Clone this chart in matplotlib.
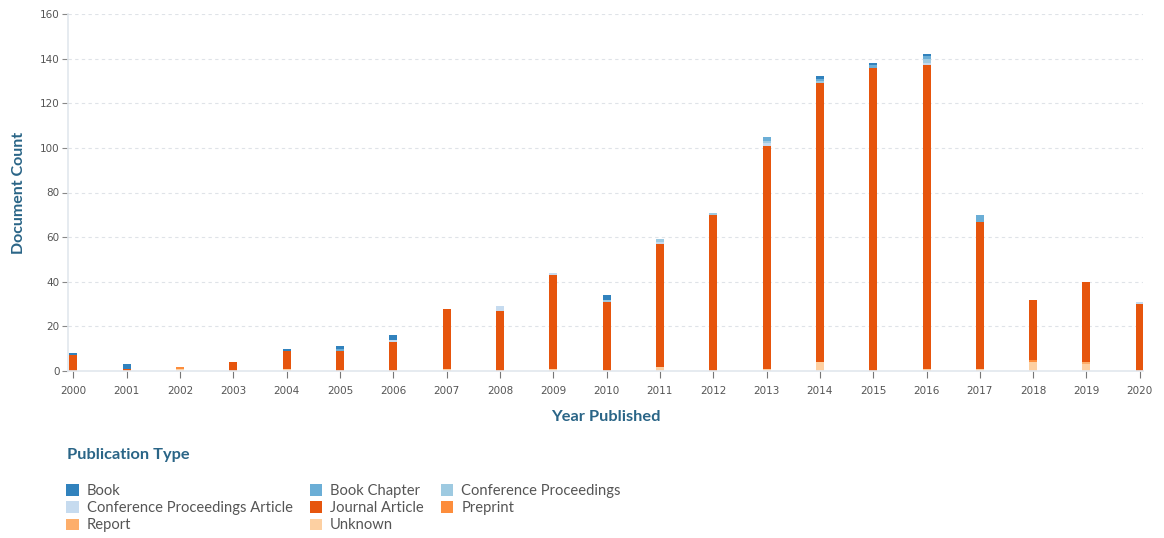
import numpy as np
import matplotlib.pyplot as plt
from matplotlib.patches import Patch

years = list(range(2000, 2021))
types = ['Book', 'Book Chapter', 'Conference Proceedings',
         'Conference Proceedings Article', 'Journal Article', 'Preprint',
         'Report', 'Unknown']
colors = ['#3182bd', '#6baed6', '#9ecae1', '#c6dbef',
          '#e6550d', '#fd8d3c', '#fdae6b', '#fdd0a2']

book         = [1, 2, 0, 0, 1, 1, 2, 0, 0, 0, 2, 0, 0, 0, 1, 1, 1, 0, 0, 0, 0]
book_chapter = [0, 0, 0, 0, 0, 1, 0, 0, 0, 0, 0, 0, 0, 2, 1, 1, 1, 3, 0, 0, 0]
conf_proc    = [0, 0, 0, 0, 0, 0, 0, 0, 0, 0, 1, 1, 1, 1, 1, 0, 2, 0, 0, 0, 0]
conf_article = [0, 0, 0, 0, 0, 0, 1, 0, 2, 1, 0, 1, 0, 1, 0, 0, 1, 0, 0, 0, 1]
journal      = [7, 1, 0, 4, 8, 9, 13, 27, 27, 42, 31, 55, 70, 100, 125, 136, 136, 66, 27, 36, 30]
preprint     = [0, 0, 1, 0, 0, 0, 0, 0, 0, 0, 0, 0, 0, 0, 0, 0, 0, 0, 1, 0, 0]
report       = [0, 0, 0, 0, 0, 0, 0, 0, 0, 0, 0, 0, 0, 0, 0, 0, 0, 0, 0, 1, 0]
unknown      = [0, 0, 1, 0, 1, 0, 0, 1, 0, 1, 0, 2, 0, 1, 4, 0, 1, 1, 4, 3, 0]

series = [book, book_chapter, conf_proc, conf_article, journal, preprint, report, unknown]

TEAL = '#2a6587'
fig = plt.figure(figsize=(11.64, 5.38), dpi=100, facecolor='white')
ax = fig.add_axes([68 / 1164, 1 - 371 / 538, 1075 / 1164, 357 / 538])

# stack from the bottom: Unknown first, Book on top
bottom = np.zeros(len(years))
for name, col, vals in reversed(list(zip(types, colors, series))):
    ax.bar(years, vals, width=0.15, bottom=bottom, color=col, edgecolor='none')
    bottom += np.array(vals)

ax.set_xlim(1999.9, 2020.06)
ax.set_ylim(0, 160)
ax.set_yticks(range(0, 161, 20))
ax.set_xticks(years)
ax.grid(axis='y', linestyle=(0, (3, 3)), color='#dfe3e8', linewidth=0.8)
ax.set_axisbelow(True)
for s in ['top', 'right']:
    ax.spines[s].set_visible(False)
for s in ['left', 'bottom']:
    ax.spines[s].set_color('#e2e8ee')
    ax.spines[s].set_linewidth(1.2)
ax.tick_params(axis='y', length=4, color='#888888', labelsize=7.5, labelcolor='#555555', pad=2)
ax.tick_params(axis='x', length=5, color='#777777', labelsize=7.5, labelcolor='#555555', pad=6)

ax.set_ylabel('Document Count', fontsize=11.5, fontweight='bold', color=TEAL,
              family='Lato', labelpad=10)
ax.set_xlabel('Year Published', fontsize=11.8, fontweight='bold', color=TEAL,
              family='Lato', labelpad=10)

fig.text(67 / 1164, 1 - 455 / 538, 'Publication Type', fontsize=11.8,
         fontweight='bold', color=TEAL, family='Lato', va='center')

handles = [Patch(facecolor=c, edgecolor='none') for c in colors]
# legend fills by column; reorder so rows read as in the original
order = [0, 3, 6, 1, 4, 7, 2, 5]
fig.legend([handles[i] for i in order], [types[i] for i in order],
           ncol=3, loc='upper left', bbox_to_anchor=(66 / 1164, 1 - 484 / 538),
           frameon=False, prop={'family': 'Lato', 'size': 10.6},
           labelcolor='#555555', handlelength=0.85, handleheight=0.85,
           handletextpad=0.55, columnspacing=1.15, labelspacing=0.22,
           borderpad=0, borderaxespad=0)

fig.savefig('out.png', dpi=100, facecolor='white')
